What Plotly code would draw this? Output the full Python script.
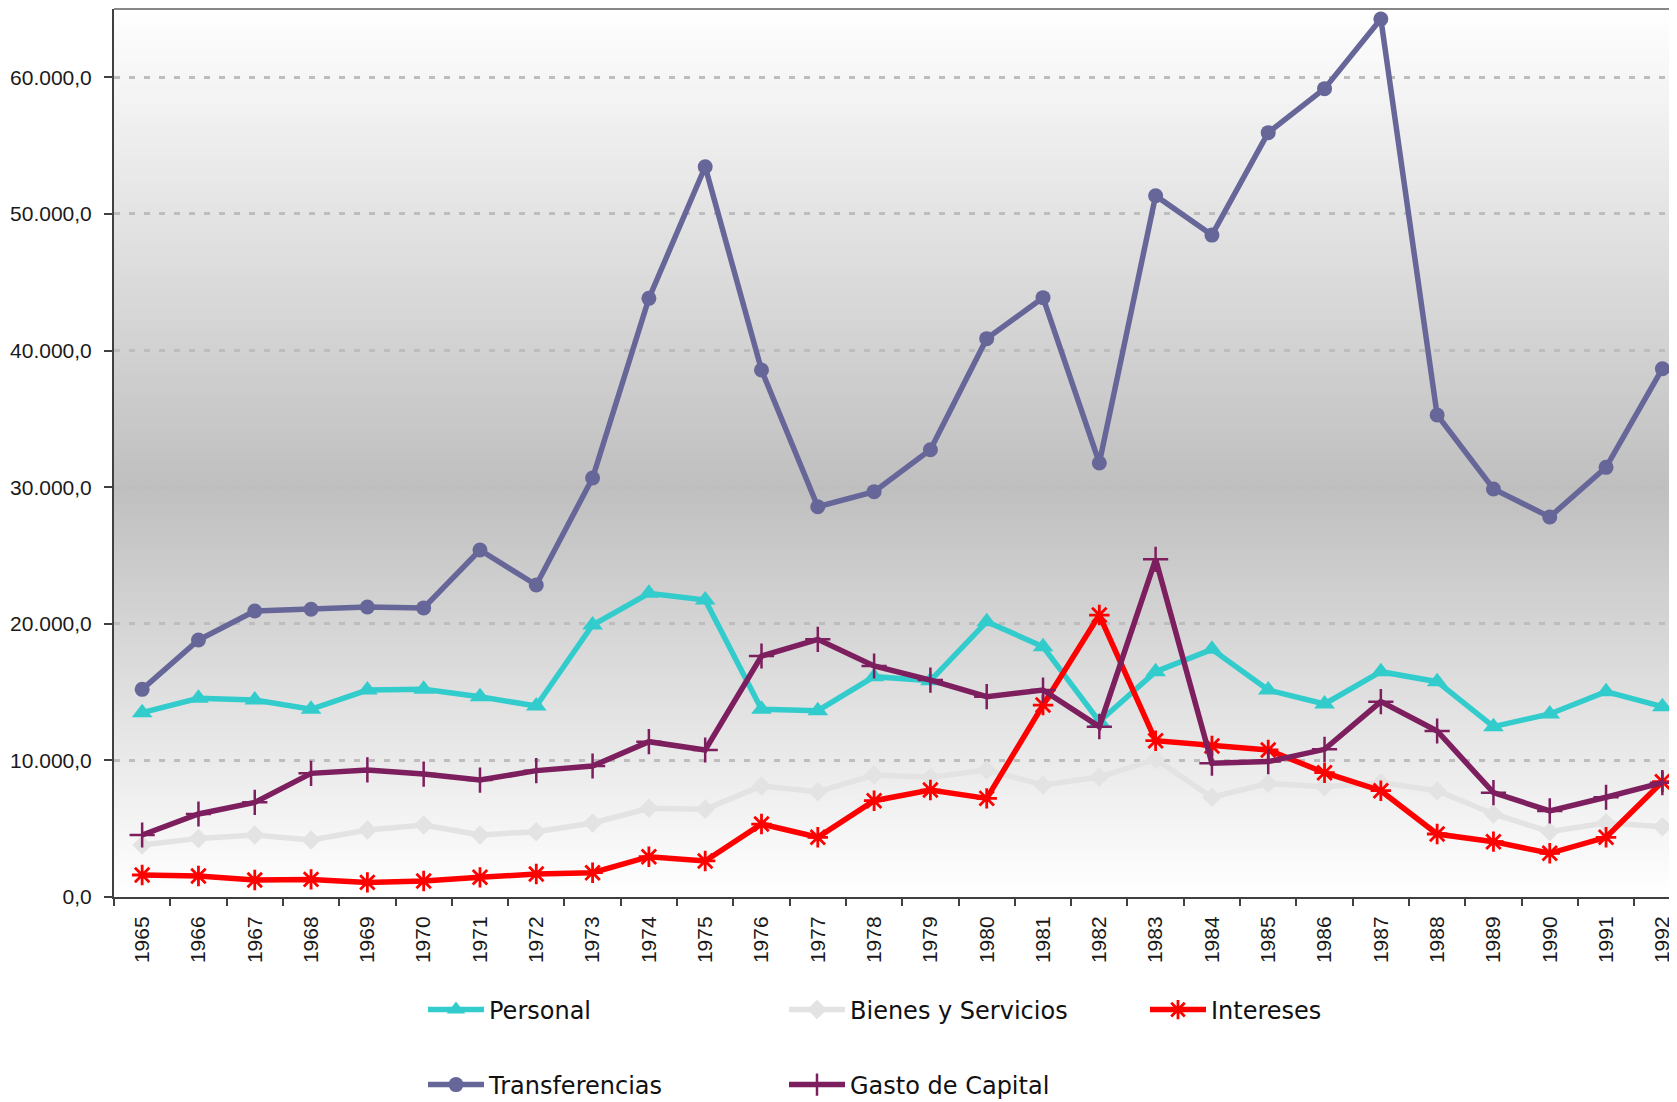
import plotly.graph_objects as go

years = ["1965", "1966", "1967", "1968", "1969", "1970", "1971", "1972", "1973", "1974",
         "1975", "1976", "1977", "1978", "1979", "1980", "1981", "1982", "1983", "1984",
         "1985", "1986", "1987", "1988", "1989", "1990", "1991", "1992"]

personal = [13490, 14540, 14420, 13740, 15150, 15200, 14660, 13980, 19910, 22230,
            21740, 13740, 13640, 16130, 15830, 20150, 18320, 12850, 16490, 18130,
            15150, 14130, 16490, 15760, 12470, 13400, 15030, 13930]
bienes = [3800, 4290, 4540, 4170, 4900, 5270, 4540, 4780, 5420, 6490,
          6420, 8130, 7710, 8930, 8760, 9300, 8200, 8780, 10080, 7300,
          8320, 8070, 8370, 7780, 6080, 4780, 5440, 5150]
intereses = [1610, 1540, 1240, 1290, 1070, 1170, 1440, 1680, 1780, 2950,
             2640, 5340, 4370, 7050, 7830, 7220, 14050, 20640, 11440, 11050,
             10760, 9100, 7780, 4610, 4050, 3200, 4370, 8440]
transferencias = [15200, 18810, 20930, 21060, 21230, 21160, 25400, 22840, 30670, 43820,
                  53450, 38580, 28570, 29670, 32740, 40870, 43870, 31770, 51330, 48450,
                  55950, 59170, 64270, 35280, 29870, 27820, 31450, 38670]
gasto_capital = [4540, 6075, 6930, 9050, 9300, 9000, 8560, 9250, 9590, 11370,
                 10760, 17640, 18860, 16910, 15880, 14660, 15150, 12470, 24720, 9790,
                 9910, 10810, 14300, 12150, 7640, 6300, 7300, 8370]

series = [
    ("Personal", personal, "#33CCCC", "triangle-up", 18, None, "legend"),
    ("Bienes y Servicios", bienes, "#E3E3E3", "diamond", 15, None, "legend"),
    ("Intereses", intereses, "#FF0000", "asterisk-open", 17, 2.8, "legend"),
    ("Transferencias", transferencias, "#666699", "circle", 15, None, "legend2"),
    ("Gasto de Capital", gasto_capital, "#7D1E5E", "cross-thin-open", 18, 2.5, "legend2"),
]

fig = go.Figure()
for name, vals, color, sym, size, lw, leg in series:
    marker = dict(symbol=sym, size=size, color=color)
    if lw:
        marker["line"] = dict(color=color, width=lw)
    else:
        marker["line"] = dict(width=0)
    fig.add_trace(go.Scatter(x=years, y=vals, name=name, mode="lines+markers",
                             line=dict(color=color, width=5.5), marker=marker, legend=leg))

# gradient background: white - gray - white
shapes = []
N = 140
for i in range(N):
    t = (i + 0.5) / N
    k = 1 - abs(2 * t - 0.92) / (1.08 if t > 0.46 else 0.92)
    k = max(0.0, min(1.0, k))
    c = int(round(255 - (255 - 191) * k))
    shapes.append(dict(type="rect", xref="x domain", yref="y domain",
                       x0=0, x1=1, y0=i / N, y1=(i + 1) / N + 0.002,
                       fillcolor=f"rgb({c},{c},{c})", line=dict(width=0), layer="below"))
shapes.append(dict(type="line", xref="x domain", yref="y domain", x0=0, x1=1, y0=1, y1=1,
                   line=dict(color="#888888", width=2), layer="above"))

W, H = 1669, 1094
legend_font = dict(family="DejaVu Sans", size=24, color="#111111")
fig.update_layout(
    width=W, height=H,
    margin=dict(l=106, r=0, t=1, b=205),
    paper_bgcolor="white", plot_bgcolor="white",
    separators=",.",
    font=dict(family="Liberation Sans, Arial", size=20, color="#1a1a1a"),
    shapes=shapes,
    showlegend=True,
    legend=dict(orientation="h", xref="container", yref="container",
                x=415 / W, y=1 - 1002 / H, xanchor="left", yanchor="middle",
                entrywidth=290, entrywidthmode="pixels", itemwidth=56,
                font=legend_font, bgcolor="rgba(0,0,0,0)"),
    legend2=dict(orientation="h", xref="container", yref="container",
                 x=415 / W, y=1 - 1077 / H, xanchor="left", yanchor="middle",
                 entrywidth=290, entrywidthmode="pixels", itemwidth=56,
                 font=legend_font, bgcolor="rgba(0,0,0,0)"),
)

fig.update_xaxes(type="category", range=[-0.5, 27.26], tickson="boundaries",
                 ticks="outside", ticklen=7, tickwidth=1.5, tickcolor="#404040",
                 showline=True, linecolor="#404040", linewidth=2,
                 tickangle=-90, showgrid=False, tickfont=dict(size=21),
                 ticklabelstandoff=9)
fig.update_yaxes(range=[0, 65000], dtick=10000, tickformat=",.1f",
                 ticks="outside", ticklen=8, tickwidth=1.5, tickcolor="#404040",
                 showline=True, linecolor="#404040", linewidth=2,
                 showgrid=True, gridcolor="#BDBDBD", gridwidth=2.5, griddash="6px,9px",
                 zeroline=False, tickfont=dict(size=21), ticklabelstandoff=8)

fig.write_html("out.html", config={"displayModeBar": False})
